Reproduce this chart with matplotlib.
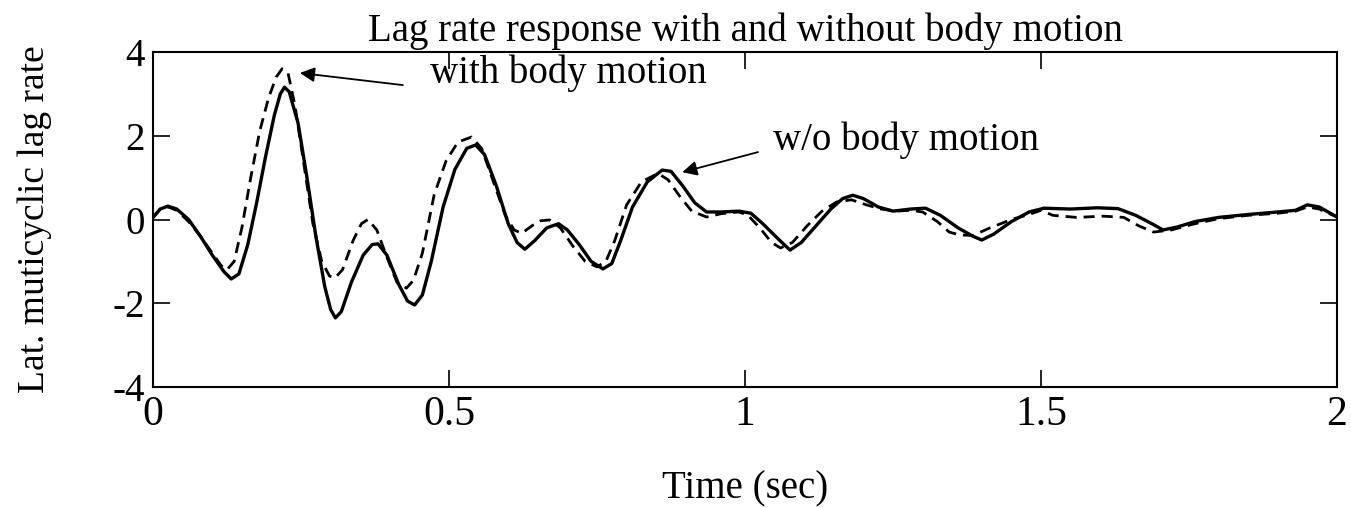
import matplotlib
matplotlib.use("Agg")
import matplotlib.pyplot as plt

# ---- data ----
t_wo = [0.000, 0.012, 0.025, 0.040, 0.060, 0.080, 0.100, 0.120, 0.132, 0.145,
        0.160, 0.175, 0.190, 0.205, 0.215, 0.222, 0.230, 0.245, 0.260, 0.275,
        0.290, 0.300, 0.308, 0.318, 0.335, 0.355, 0.370, 0.380, 0.395, 0.415,
        0.430, 0.442, 0.455, 0.470, 0.490, 0.510, 0.530, 0.545, 0.560, 0.580,
        0.600, 0.615, 0.628, 0.645, 0.665, 0.685, 0.700, 0.720, 0.740, 0.760,
        0.775, 0.790, 0.810, 0.835, 0.860, 0.875, 0.895, 0.915, 0.935, 0.960,
        0.990, 1.010, 1.030, 1.055, 1.076, 1.095, 1.120, 1.145, 1.165, 1.182,
        1.200, 1.225, 1.250, 1.280, 1.305, 1.330, 1.360, 1.385, 1.400, 1.420,
        1.450, 1.480, 1.505, 1.550, 1.595, 1.630, 1.660, 1.690, 1.706, 1.730,
        1.760, 1.800, 1.850, 1.900, 1.930, 1.950, 1.970, 2.000]
y_wo = [0.05, 0.25, 0.32, 0.25, 0.00, -0.40, -0.85, -1.25, -1.42, -1.30,
        -0.60, 0.40, 1.50, 2.50, 3.00, 3.16, 3.05, 2.30, 1.00, -0.40,
        -1.60, -2.15, -2.35, -2.20, -1.50, -0.85, -0.60, -0.58, -0.85, -1.55,
        -1.95, -2.04, -1.80, -1.00, 0.30, 1.20, 1.70, 1.78, 1.55, 0.80,
        -0.10, -0.55, -0.71, -0.50, -0.20, -0.10, -0.25, -0.60, -1.00, -1.18,
        -1.05, -0.50, 0.30, 0.90, 1.18, 1.15, 0.80, 0.40, 0.18, 0.18,
        0.20, 0.15, -0.10, -0.45, -0.73, -0.55, -0.15, 0.25, 0.50, 0.58,
        0.50, 0.30, 0.20, 0.25, 0.27, 0.10, -0.20, -0.40, -0.49, -0.35,
        -0.05, 0.18, 0.27, 0.25, 0.28, 0.26, 0.10, -0.12, -0.25, -0.18,
        -0.05, 0.05, 0.12, 0.18, 0.22, 0.35, 0.30, 0.06]

t_with = [0.000, 0.012, 0.025, 0.040, 0.060, 0.080, 0.100, 0.115, 0.125, 0.137,
          0.150, 0.165, 0.180, 0.195, 0.208, 0.218, 0.228, 0.240, 0.255, 0.270,
          0.285, 0.298, 0.307, 0.320, 0.338, 0.352, 0.363, 0.378, 0.395, 0.412,
          0.428, 0.440, 0.455, 0.475, 0.495, 0.515, 0.538, 0.555, 0.575, 0.595,
          0.610, 0.623, 0.640, 0.655, 0.670, 0.688, 0.710, 0.730, 0.750, 0.765,
          0.780, 0.800, 0.825, 0.853, 0.870, 0.890, 0.910, 0.935, 0.960, 0.990,
          1.005, 1.025, 1.045, 1.060, 1.080, 1.105, 1.130, 1.155, 1.180, 1.205,
          1.230, 1.255, 1.280, 1.300, 1.325, 1.345, 1.363, 1.385, 1.414, 1.450,
          1.480, 1.500, 1.520, 1.560, 1.605, 1.640, 1.665, 1.690, 1.720, 1.760,
          1.800, 1.850, 1.900, 1.930, 1.950, 1.970, 2.000]
y_with = [0.05, 0.25, 0.30, 0.22, -0.05, -0.40, -0.80, -1.10, -1.20, -1.00,
          -0.20, 1.00, 2.10, 2.90, 3.40, 3.60, 3.50, 2.70, 1.30, -0.10,
          -1.00, -1.35, -1.40, -1.20, -0.50, -0.10, 0.00, -0.25, -0.90, -1.50,
          -1.64, -1.45, -0.80, 0.60, 1.40, 1.85, 1.97, 1.70, 0.90, 0.10,
          -0.25, -0.33, -0.15, -0.03, -0.01, -0.20, -0.65, -1.00, -1.13, -1.00,
          -0.50, 0.35, 0.90, 1.10, 0.95, 0.55, 0.20, 0.06, 0.14, 0.18,
          0.10, -0.20, -0.55, -0.68, -0.55, -0.15, 0.20, 0.42, 0.47, 0.35,
          0.25, 0.20, 0.22, 0.18, -0.05, -0.30, -0.37, -0.38, -0.20, 0.00,
          0.12, 0.22, 0.10, 0.05, 0.08, 0.05, -0.15, -0.30, -0.25, -0.10,
          0.02, 0.10, 0.15, 0.20, 0.30, 0.25, 0.06]

x_ticks = [0, 0.5, 1, 1.5, 2]
x_tick_labels = ["0", "0.5", "1", "1.5", "2"]
y_ticks = [-4, -2, 0, 2, 4]
y_tick_labels = ["-4", "-2", "0", "2", "4"]

plt.rcParams['font.family'] = ['Liberation Serif', 'DejaVu Serif']

fig = plt.figure(figsize=(13.51, 5.08), dpi=100)
ax = fig.add_axes([0.1133, 0.2382, 0.8763, 0.6594])

ax.plot(t_wo, y_wo, color='black', lw=2.4, solid_joinstyle='round')
ax.plot(t_with, y_with, color='black', lw=2.0, linestyle=(0, (4, 2.5)))

ax.set_xlim(0, 2)
ax.set_ylim(-4, 4)
ax.set_xticks(x_ticks)
ax.set_xticklabels(x_tick_labels)
ax.set_yticks(y_ticks)
ax.set_yticklabels(y_tick_labels)
ax.tick_params(direction='in', length=12, width=1.2, top=True, right=True)
ax.tick_params(axis='x', labelsize=30, pad=6)
ax.tick_params(axis='y', labelsize=28, pad=6)
for s in ax.spines.values():
    s.set_linewidth(1.5)

ax.set_title("Lag rate response with and without body motion", fontsize=28, pad=8)
ax.set_xlabel("Time (sec)", fontsize=28, labelpad=26)
ax.set_ylabel("Lat. muticyclic lag rate", fontsize=27)
ax.yaxis.set_label_coords(-0.085, 0.5)

ax.annotate("", xy=(0.248, 3.50), xytext=(0.422, 3.21),
            arrowprops=dict(arrowstyle='-|>', color='black', lw=1.3,
                            mutation_scale=22, shrinkA=0, shrinkB=0))
ax.text(0.468, 3.50, "with body motion", fontsize=28, ha='left', va='center')
ax.annotate("", xy=(0.894, 1.13), xytext=(1.022, 1.61),
            arrowprops=dict(arrowstyle='-|>', color='black', lw=1.3,
                            mutation_scale=22, shrinkA=0, shrinkB=0))
ax.text(1.047, 1.9, "w/o body motion", fontsize=28, ha='left', va='center')

fig.savefig("out.png", dpi=100)
